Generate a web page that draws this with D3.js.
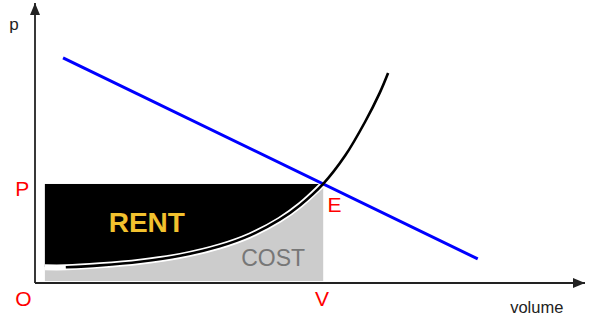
<!DOCTYPE html>
<html>
<head>
<meta charset="utf-8">
<script src="https://cdn.jsdelivr.net/npm/d3@7"></script>
<style>
  html, body { margin: 0; padding: 0; background: #fff; }
  text { font-family: 'Liberation Sans', Arial, sans-serif; }
</style>
</head>
<body>
<div id="chart"></div>
<script>
// supply / cost curve (volume, price) in chart units 0..100
const costVolume = [1.8, 5.6, 11.8, 19.1, 26.4, 33.6, 39.1, 44.5, 48.2, 52.4, 56.4, 60.0, 62.7, 64.2];
const costPrice = [5.6, 5.6, 6.3, 7.6, 9.7, 13.1, 17.0, 22.6, 27.8, 35.4, 45.5, 57.5, 68.0, 75.0];

// demand line
const demandVolume = [5.1, 80.5];
const demandPrice = [80.4, 8.6];

// equilibrium (E) and left edge of the shaded areas
const priceP = 35.4;
const volumeV = 52.4;
const areaStart = 1.8;
const areaFloor = 0.7;

const labels = [
  { text: 'p', vol: -4.7, price: 90.5, color: '#222', size: 17, weight: 'normal' },
  { text: 'P', vol: -3.6, price: 31.0, color: '#ff0000', size: 21, weight: 'normal' },
  { text: 'O', vol: -3.6, price: -8.2, color: '#ff0000', size: 21, weight: 'normal' },
  { text: 'V', vol: 50.9, price: -8.2, color: '#ff0000', size: 21, weight: 'normal' },
  { text: 'E', vol: 53.2, price: 25.3, color: '#ff0000', size: 21, weight: 'normal' },
  { text: 'RENT', vol: 13.4, price: 18.2, color: '#f2c12e', size: 28, weight: 'bold' },
  { text: 'COST', vol: 37.5, price: 6.1, color: '#777777', size: 23, weight: 'normal' },
  { text: 'volume', vol: 86.4, price: -10.7, color: '#222', size: 16.5, weight: 'normal' },
];

const props = {
  width: 591,
  height: 329,
  origin: { x: 35, y: 283 },
  xEnd: 585,
  yEnd: 3,
};

const x = d3.scaleLinear().domain([0, 100]).range([props.origin.x, props.xEnd]);
const y = d3.scaleLinear().domain([0, 100]).range([props.origin.y, props.yEnd]);

const cost = costVolume.map((v, i) => ({ vol: v, price: costPrice[i] }));
const demand = demandVolume.map((v, i) => ({ vol: v, price: demandPrice[i] }));

const svg = d3.select('#chart')
  .append('svg')
  .attr('width', props.width)
  .attr('height', props.height);

const defs = svg.append('defs');
defs.append('marker')
  .attr('id', 'arrow')
  .attr('viewBox', '0 0 12 10')
  .attr('refX', 12)
  .attr('refY', 5)
  .attr('markerWidth', 12)
  .attr('markerHeight', 10)
  .attr('markerUnits', 'userSpaceOnUse')
  .attr('orient', 'auto')
  .append('path')
  .attr('d', 'M0,0L12,5L0,10Z')
  .attr('fill', '#222');

// cost area (grey)
svg.append('rect')
  .attr('x', x(areaStart))
  .attr('y', y(priceP))
  .attr('width', x(volumeV) - x(areaStart))
  .attr('height', y(areaFloor) - y(priceP))
  .attr('fill', '#cccccc');

const smooth = d3.curveCatmullRom.alpha(0.5);

// rent area (black) between P and the cost curve
const line = d3.line()
  .x(d => x(d.vol))
  .y(d => y(d.price))
  .curve(smooth);

const area = d3.area()
  .x(d => x(d.vol))
  .y0(y(priceP))
  .y1(d => y(d.price))
  .curve(smooth);

svg.append('path')
  .datum(cost.filter(d => d.vol <= volumeV))
  .attr('d', area)
  .attr('fill', '#000');

// white halo under the curve
svg.append('path')
  .datum(cost.filter(d => d.vol <= volumeV + 0.5))
  .attr('d', line)
  .attr('fill', 'none')
  .attr('stroke', '#fff')
  .attr('stroke-width', 6);

// demand line
svg.append('path')
  .datum(demand)
  .attr('d', line.curve(d3.curveLinear))
  .attr('fill', 'none')
  .attr('stroke', '#0000ff')
  .attr('stroke-width', 3);

// supply curve
svg.append('path')
  .datum(cost.slice(1))
  .attr('d', line.curve(smooth))
  .attr('fill', 'none')
  .attr('stroke', '#000')
  .attr('stroke-width', 2.6);

// axes
svg.append('line')
  .attr('x1', x(0)).attr('y1', y(0))
  .attr('x2', x(0)).attr('y2', y(100))
  .attr('stroke', '#222')
  .attr('stroke-width', 1.8)
  .attr('marker-end', 'url(#arrow)');

svg.append('line')
  .attr('x1', x(0)).attr('y1', y(0))
  .attr('x2', x(100)).attr('y2', y(0))
  .attr('stroke', '#222')
  .attr('stroke-width', 1.8)
  .attr('marker-end', 'url(#arrow)');

svg.selectAll('text.label')
  .data(labels)
  .join('text')
  .attr('class', 'label')
  .attr('x', d => x(d.vol))
  .attr('y', d => y(d.price))
  .attr('fill', d => d.color)
  .style('font-size', d => `${d.size}px`)
  .style('font-weight', d => d.weight)
  .text(d => d.text);
</script>
</body>
</html>
